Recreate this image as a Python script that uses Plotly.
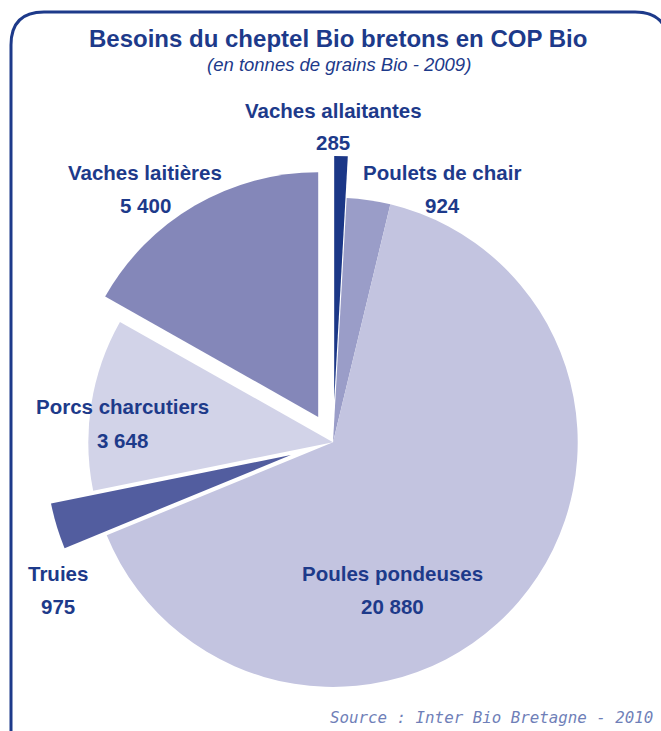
import plotly.graph_objects as go

# ---- data ----
categories = ["Vaches allaitantes", "Poulets de chair", "Poules pondeuses",
              "Truies", "Porcs charcutiers", "Vaches laitières"]
values = [285, 924, 20880, 975, 3648, 5400]
colors = ["#1b3787", "#9a9dc8", "#c3c4e0", "#525d9f", "#d2d3e8", "#8487b9"]
pulls = [0.17, 0, 0, 0.18, 0, 0.12]

title_text = "Besoins du cheptel Bio bretons en COP Bio"
subtitle_text = "(en tonnes de grains Bio - 2009)"
source_text = "Source : Inter Bio Bretagne - 2010"

W, H = 661, 731
TXT = "#1d3a8a"

# label anchor positions (pixels): name line centre
label_pos = {
    "Vaches allaitantes": (333, 110),
    "Poulets de chair": (442, 172),
    "Poules pondeuses": (392, 573),
    "Truies": (58, 573),
    "Porcs charcutiers": (122, 407),
    "Vaches laitières": (145, 172),
}


def px(x, y):
    return x / W, 1 - y / H


def fr(v):
    return f"{v:,}".replace(",", " ")


fig = go.Figure(go.Pie(
    labels=categories,
    values=values,
    sort=False,
    direction="clockwise",
    rotation=0,
    pull=pulls,
    marker=dict(colors=colors, line=dict(width=0)),
    textinfo="none",
    hoverinfo="skip",
    domain=dict(x=[0.5038 - 0.45, 0.5038 + 0.45], y=[0.0, 0.79]),
))

bold_font = "Liberation Sans Narrow, Arial Narrow, Liberation Sans, Arial, sans-serif"
lab_font = "Liberation Sans, Arial, sans-serif"

ann = []
tx, ty = px(338, 38)
ann.append(dict(x=tx, y=ty, xref="paper", yref="paper", text="<b>" + title_text + "</b>",
                showarrow=False, font=dict(family=bold_font, size=24, color=TXT),
                xanchor="center", yanchor="middle"))
sx, sy = px(339, 64)
ann.append(dict(x=sx, y=sy, xref="paper", yref="paper", text="<i>" + subtitle_text + "</i>",
                showarrow=False, font=dict(family=bold_font, size=18.5, color=TXT),
                xanchor="center", yanchor="middle"))

for c, v in zip(categories, values):
    x0, y0 = label_pos[c]
    ax, ay = px(x0, y0)
    ann.append(dict(x=ax, y=ay, xref="paper", yref="paper", text="<b>" + c + "</b>",
                    showarrow=False, font=dict(family=lab_font, size=20.5, color=TXT),
                    xanchor="center", yanchor="middle"))
    bx, by = px(x0, y0 + 33)
    ann.append(dict(x=bx, y=by, xref="paper", yref="paper", text="<b>" + fr(v) + "</b>",
                    showarrow=False, font=dict(family=lab_font, size=20.5, color=TXT),
                    xanchor="center", yanchor="middle"))

srx, sry = px(655, 717)
ann.append(dict(x=srx, y=sry, xref="paper", yref="paper", text=source_text,
                showarrow=False,
                font=dict(family="DejaVu Sans Mono, monospace", size=15.8, color="#6f7fb8", style="italic"),
                xanchor="right", yanchor="middle"))

# rounded frame (open at bottom, right side beyond canvas)
def P(x, y):
    a, b = px(x, y)
    return f"{a:.5f},{b:.5f}"

frame = (f"M {P(11, 735)} L {P(11, 45)} Q {P(11, 12)} {P(44, 12)} "
         f"L {P(635, 12)} Q {P(668, 12)} {P(668, 45)} L {P(668, 735)}")

fig.update_layout(
    width=W, height=H,
    margin=dict(l=0, r=0, t=0, b=0),
    paper_bgcolor="white",
    plot_bgcolor="white",
    showlegend=False,
    annotations=ann,
    shapes=[dict(type="path", path=frame, xref="paper", yref="paper",
                 line=dict(color="#1d3a8a", width=3), fillcolor="rgba(0,0,0,0)")],
)

fig.write_html("out.html")
